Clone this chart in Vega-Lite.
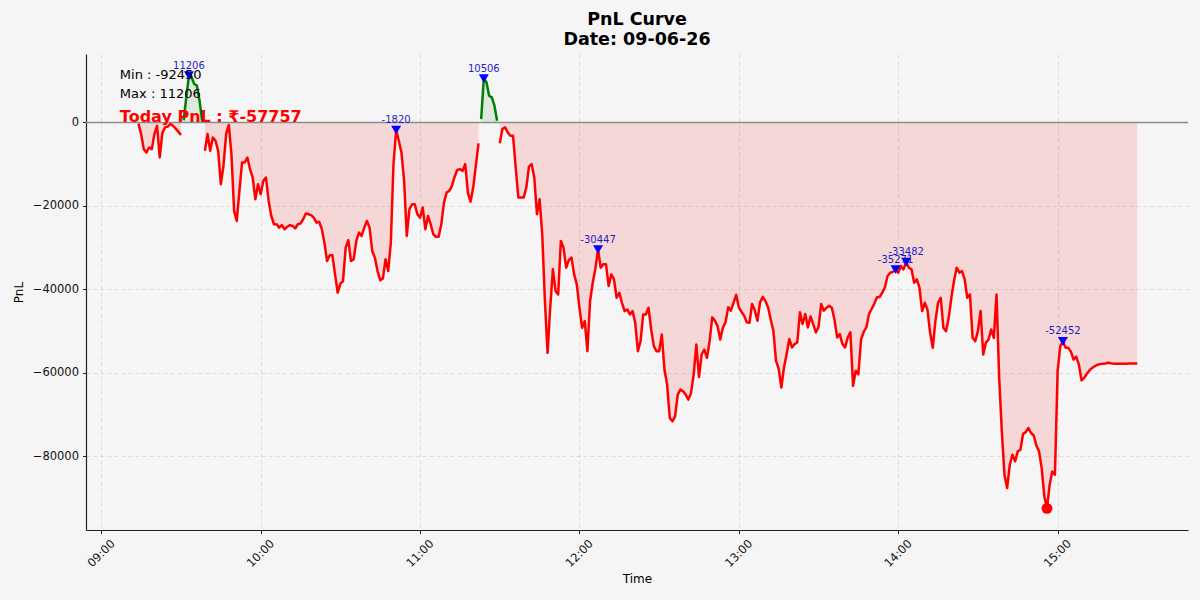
{
  "$schema": "https://vega.github.io/schema/vega-lite/v6.json",
  "width": 1102,
  "height": 476,
  "autosize": {"type": "none"},
  "padding": {"left": 86, "top": 54, "right": 12, "bottom": 70},
  "background": "#f5f5f5",
  "title": {"text": ["PnL Curve", "Date: 09-06-26"], "fontSize": 17.5, "fontWeight": "bold", "lineHeight": 20, "anchor": "middle", "offset": 6, "color": "#000000"},
  "config": {
    "view": {"stroke": null},
    "font": "DejaVu Sans",
    "axis": {
      "domainColor": "#222222", "domainWidth": 1.2, "tickColor": "#222222", "tickWidth": 1, "tickSize": 3.5,
      "labelColor": "#111111", "labelFontSize": 11.5,
      "titleColor": "#000000", "titleFontSize": 12, "titleFontWeight": "normal",
      "grid": true, "gridColor": "#b0b0b0", "gridOpacity": 0.45, "gridDash": [4, 3], "gridWidth": 0.8
    }
  },
  "data": {"values": [
      {"t":"2026-06-09T09:14","v":-300,"g":1,"s":"neg"},{"t":"2026-06-09T09:15","v":-2800,"g":1,"s":"neg"},{"t":"2026-06-09T09:16","v":-6400,"g":1,"s":"neg"},{"t":"2026-06-09T09:17","v":-7200,"g":1,"s":"neg"},{"t":"2026-06-09T09:18","v":-6000,"g":1,"s":"neg"},{"t":"2026-06-09T09:19","v":-6400,"g":1,"s":"neg"},{"t":"2026-06-09T09:20","v":-2800,"g":1,"s":"neg"},{"t":"2026-06-09T09:21","v":-800,"g":1,"s":"neg"},{"t":"2026-06-09T09:22","v":-8400,"g":1,"s":"neg"},{"t":"2026-06-09T09:23","v":-2500,"g":1,"s":"neg"},{"t":"2026-06-09T09:24","v":-1200,"g":1,"s":"neg"},{"t":"2026-06-09T09:25","v":-1000,"g":1,"s":"neg"},{"t":"2026-06-09T09:26","v":-400,"g":1,"s":"neg"},{"t":"2026-06-09T09:27","v":-800,"g":1,"s":"neg"},{"t":"2026-06-09T09:28","v":-1500,"g":1,"s":"neg"},{"t":"2026-06-09T09:29","v":-2200,"g":1,"s":"neg"},{"t":"2026-06-09T09:30","v":-3000,"g":1,"s":"neg"},
      {"t":"2026-06-09T09:31","v":500,"g":2,"s":"pos"},{"t":"2026-06-09T09:32","v":6000,"g":2,"s":"pos"},{"t":"2026-06-09T09:33","v":11206,"g":2,"s":"pos"},{"t":"2026-06-09T09:34","v":10800,"g":2,"s":"pos"},{"t":"2026-06-09T09:35","v":9200,"g":2,"s":"pos"},{"t":"2026-06-09T09:36","v":8800,"g":2,"s":"pos"},{"t":"2026-06-09T09:37","v":5200,"g":2,"s":"pos"},{"t":"2026-06-09T09:38","v":200,"g":2,"s":"pos"},
      {"t":"2026-06-09T09:39","v":-6800,"g":3,"s":"neg"},{"t":"2026-06-09T09:40","v":-2800,"g":3,"s":"neg"},{"t":"2026-06-09T09:41","v":-6800,"g":3,"s":"neg"},{"t":"2026-06-09T09:42","v":-3600,"g":3,"s":"neg"},{"t":"2026-06-09T09:43","v":-4400,"g":3,"s":"neg"},{"t":"2026-06-09T09:44","v":-6800,"g":3,"s":"neg"},{"t":"2026-06-09T09:45","v":-14800,"g":3,"s":"neg"},{"t":"2026-06-09T09:46","v":-10400,"g":3,"s":"neg"},{"t":"2026-06-09T09:47","v":-2800,"g":3,"s":"neg"},{"t":"2026-06-09T09:48","v":-600,"g":3,"s":"neg"},{"t":"2026-06-09T09:49","v":-7600,"g":3,"s":"neg"},{"t":"2026-06-09T09:50","v":-21200,"g":3,"s":"neg"},{"t":"2026-06-09T09:51","v":-23600,"g":3,"s":"neg"},{"t":"2026-06-09T09:52","v":-16400,"g":3,"s":"neg"},{"t":"2026-06-09T09:53","v":-9600,"g":3,"s":"neg"},{"t":"2026-06-09T09:54","v":-9600,"g":3,"s":"neg"},{"t":"2026-06-09T09:55","v":-8400,"g":3,"s":"neg"},{"t":"2026-06-09T09:56","v":-11200,"g":3,"s":"neg"},{"t":"2026-06-09T09:57","v":-13200,"g":3,"s":"neg"},{"t":"2026-06-09T09:58","v":-18400,"g":3,"s":"neg"},{"t":"2026-06-09T09:59","v":-14800,"g":3,"s":"neg"},
      {"t":"2026-06-09T10:00","v":-17200,"g":3,"s":"neg"},{"t":"2026-06-09T10:01","v":-14000,"g":3,"s":"neg"},{"t":"2026-06-09T10:02","v":-13200,"g":3,"s":"neg"},{"t":"2026-06-09T10:03","v":-18800,"g":3,"s":"neg"},{"t":"2026-06-09T10:04","v":-22400,"g":3,"s":"neg"},{"t":"2026-06-09T10:05","v":-24400,"g":3,"s":"neg"},{"t":"2026-06-09T10:06","v":-24400,"g":3,"s":"neg"},{"t":"2026-06-09T10:07","v":-25200,"g":3,"s":"neg"},{"t":"2026-06-09T10:08","v":-24600,"g":3,"s":"neg"},{"t":"2026-06-09T10:09","v":-25600,"g":3,"s":"neg"},{"t":"2026-06-09T10:10","v":-25000,"g":3,"s":"neg"},{"t":"2026-06-09T10:11","v":-24600,"g":3,"s":"neg"},{"t":"2026-06-09T10:12","v":-24800,"g":3,"s":"neg"},{"t":"2026-06-09T10:13","v":-25400,"g":3,"s":"neg"},{"t":"2026-06-09T10:14","v":-24400,"g":3,"s":"neg"},{"t":"2026-06-09T10:15","v":-24200,"g":3,"s":"neg"},{"t":"2026-06-09T10:16","v":-23200,"g":3,"s":"neg"},{"t":"2026-06-09T10:17","v":-21800,"g":3,"s":"neg"},{"t":"2026-06-09T10:18","v":-22000,"g":3,"s":"neg"},{"t":"2026-06-09T10:19","v":-22200,"g":3,"s":"neg"},{"t":"2026-06-09T10:20","v":-22800,"g":3,"s":"neg"},{"t":"2026-06-09T10:21","v":-24000,"g":3,"s":"neg"},{"t":"2026-06-09T10:22","v":-23800,"g":3,"s":"neg"},{"t":"2026-06-09T10:23","v":-25500,"g":3,"s":"neg"},{"t":"2026-06-09T10:24","v":-28800,"g":3,"s":"neg"},{"t":"2026-06-09T10:25","v":-33200,"g":3,"s":"neg"},{"t":"2026-06-09T10:26","v":-31800,"g":3,"s":"neg"},{"t":"2026-06-09T10:27","v":-31800,"g":3,"s":"neg"},{"t":"2026-06-09T10:28","v":-36400,"g":3,"s":"neg"},{"t":"2026-06-09T10:29","v":-40800,"g":3,"s":"neg"},{"t":"2026-06-09T10:30","v":-38600,"g":3,"s":"neg"},{"t":"2026-06-09T10:31","v":-38000,"g":3,"s":"neg"},{"t":"2026-06-09T10:32","v":-30000,"g":3,"s":"neg"},{"t":"2026-06-09T10:33","v":-28200,"g":3,"s":"neg"},{"t":"2026-06-09T10:34","v":-33200,"g":3,"s":"neg"},{"t":"2026-06-09T10:35","v":-32800,"g":3,"s":"neg"},{"t":"2026-06-09T10:36","v":-28400,"g":3,"s":"neg"},{"t":"2026-06-09T10:37","v":-26400,"g":3,"s":"neg"},{"t":"2026-06-09T10:38","v":-27200,"g":3,"s":"neg"},{"t":"2026-06-09T10:39","v":-25200,"g":3,"s":"neg"},{"t":"2026-06-09T10:40","v":-23600,"g":3,"s":"neg"},{"t":"2026-06-09T10:41","v":-25200,"g":3,"s":"neg"},{"t":"2026-06-09T10:42","v":-30800,"g":3,"s":"neg"},{"t":"2026-06-09T10:43","v":-32400,"g":3,"s":"neg"},{"t":"2026-06-09T10:44","v":-35600,"g":3,"s":"neg"},{"t":"2026-06-09T10:45","v":-37800,"g":3,"s":"neg"},{"t":"2026-06-09T10:46","v":-37400,"g":3,"s":"neg"},{"t":"2026-06-09T10:47","v":-32800,"g":3,"s":"neg"},{"t":"2026-06-09T10:48","v":-35600,"g":3,"s":"neg"},{"t":"2026-06-09T10:49","v":-28800,"g":3,"s":"neg"},{"t":"2026-06-09T10:50","v":-10000,"g":3,"s":"neg"},{"t":"2026-06-09T10:51","v":-1820,"g":3,"s":"neg"},{"t":"2026-06-09T10:52","v":-4400,"g":3,"s":"neg"},{"t":"2026-06-09T10:53","v":-7200,"g":3,"s":"neg"},{"t":"2026-06-09T10:54","v":-14000,"g":3,"s":"neg"},{"t":"2026-06-09T10:55","v":-27200,"g":3,"s":"neg"},{"t":"2026-06-09T10:56","v":-20800,"g":3,"s":"neg"},{"t":"2026-06-09T10:57","v":-19600,"g":3,"s":"neg"},{"t":"2026-06-09T10:58","v":-19600,"g":3,"s":"neg"},{"t":"2026-06-09T10:59","v":-22000,"g":3,"s":"neg"},
      {"t":"2026-06-09T11:00","v":-22800,"g":3,"s":"neg"},{"t":"2026-06-09T11:01","v":-20400,"g":3,"s":"neg"},{"t":"2026-06-09T11:02","v":-25600,"g":3,"s":"neg"},{"t":"2026-06-09T11:03","v":-22400,"g":3,"s":"neg"},{"t":"2026-06-09T11:04","v":-24400,"g":3,"s":"neg"},{"t":"2026-06-09T11:05","v":-26800,"g":3,"s":"neg"},{"t":"2026-06-09T11:06","v":-27400,"g":3,"s":"neg"},{"t":"2026-06-09T11:07","v":-27400,"g":3,"s":"neg"},{"t":"2026-06-09T11:08","v":-24400,"g":3,"s":"neg"},{"t":"2026-06-09T11:09","v":-19200,"g":3,"s":"neg"},{"t":"2026-06-09T11:10","v":-16800,"g":3,"s":"neg"},{"t":"2026-06-09T11:11","v":-16400,"g":3,"s":"neg"},{"t":"2026-06-09T11:12","v":-15200,"g":3,"s":"neg"},{"t":"2026-06-09T11:13","v":-13000,"g":3,"s":"neg"},{"t":"2026-06-09T11:14","v":-11400,"g":3,"s":"neg"},{"t":"2026-06-09T11:15","v":-11200,"g":3,"s":"neg"},{"t":"2026-06-09T11:16","v":-11600,"g":3,"s":"neg"},{"t":"2026-06-09T11:17","v":-10000,"g":3,"s":"neg"},{"t":"2026-06-09T11:18","v":-16800,"g":3,"s":"neg"},{"t":"2026-06-09T11:19","v":-19000,"g":3,"s":"neg"},{"t":"2026-06-09T11:20","v":-15600,"g":3,"s":"neg"},{"t":"2026-06-09T11:21","v":-10400,"g":3,"s":"neg"},{"t":"2026-06-09T11:22","v":-5000,"g":3,"s":"neg"},
      {"t":"2026-06-09T11:23","v":800,"g":4,"s":"pos"},{"t":"2026-06-09T11:24","v":10506,"g":4,"s":"pos"},{"t":"2026-06-09T11:25","v":9600,"g":4,"s":"pos"},{"t":"2026-06-09T11:26","v":6400,"g":4,"s":"pos"},{"t":"2026-06-09T11:27","v":6000,"g":4,"s":"pos"},{"t":"2026-06-09T11:28","v":4000,"g":4,"s":"pos"},{"t":"2026-06-09T11:29","v":400,"g":4,"s":"pos"},
      {"t":"2026-06-09T11:30","v":-5000,"g":5,"s":"neg"},{"t":"2026-06-09T11:31","v":-1600,"g":5,"s":"neg"},{"t":"2026-06-09T11:32","v":-1200,"g":5,"s":"neg"},{"t":"2026-06-09T11:33","v":-2400,"g":5,"s":"neg"},{"t":"2026-06-09T11:34","v":-3200,"g":5,"s":"neg"},{"t":"2026-06-09T11:35","v":-3200,"g":5,"s":"neg"},{"t":"2026-06-09T11:36","v":-10800,"g":5,"s":"neg"},{"t":"2026-06-09T11:37","v":-18000,"g":5,"s":"neg"},{"t":"2026-06-09T11:38","v":-18000,"g":5,"s":"neg"},{"t":"2026-06-09T11:39","v":-18000,"g":5,"s":"neg"},{"t":"2026-06-09T11:40","v":-15600,"g":5,"s":"neg"},{"t":"2026-06-09T11:41","v":-10600,"g":5,"s":"neg"},{"t":"2026-06-09T11:42","v":-10000,"g":5,"s":"neg"},{"t":"2026-06-09T11:43","v":-13200,"g":5,"s":"neg"},{"t":"2026-06-09T11:44","v":-22000,"g":5,"s":"neg"},{"t":"2026-06-09T11:45","v":-18400,"g":5,"s":"neg"},{"t":"2026-06-09T11:46","v":-26800,"g":5,"s":"neg"},{"t":"2026-06-09T11:47","v":-42800,"g":5,"s":"neg"},{"t":"2026-06-09T11:48","v":-55200,"g":5,"s":"neg"},{"t":"2026-06-09T11:49","v":-44400,"g":5,"s":"neg"},{"t":"2026-06-09T11:50","v":-35200,"g":5,"s":"neg"},{"t":"2026-06-09T11:51","v":-40400,"g":5,"s":"neg"},{"t":"2026-06-09T11:52","v":-41200,"g":5,"s":"neg"},{"t":"2026-06-09T11:53","v":-28400,"g":5,"s":"neg"},{"t":"2026-06-09T11:54","v":-30000,"g":5,"s":"neg"},{"t":"2026-06-09T11:55","v":-34800,"g":5,"s":"neg"},{"t":"2026-06-09T11:56","v":-33000,"g":5,"s":"neg"},{"t":"2026-06-09T11:57","v":-32400,"g":5,"s":"neg"},{"t":"2026-06-09T11:58","v":-36400,"g":5,"s":"neg"},{"t":"2026-06-09T11:59","v":-38800,"g":5,"s":"neg"},
      {"t":"2026-06-09T12:00","v":-44400,"g":5,"s":"neg"},{"t":"2026-06-09T12:01","v":-49200,"g":5,"s":"neg"},{"t":"2026-06-09T12:02","v":-47600,"g":5,"s":"neg"},{"t":"2026-06-09T12:03","v":-54800,"g":5,"s":"neg"},{"t":"2026-06-09T12:04","v":-42800,"g":5,"s":"neg"},{"t":"2026-06-09T12:05","v":-38400,"g":5,"s":"neg"},{"t":"2026-06-09T12:06","v":-35000,"g":5,"s":"neg"},{"t":"2026-06-09T12:07","v":-30447,"g":5,"s":"neg"},{"t":"2026-06-09T12:08","v":-34800,"g":5,"s":"neg"},{"t":"2026-06-09T12:09","v":-34000,"g":5,"s":"neg"},{"t":"2026-06-09T12:10","v":-34000,"g":5,"s":"neg"},{"t":"2026-06-09T12:11","v":-39200,"g":5,"s":"neg"},{"t":"2026-06-09T12:12","v":-36400,"g":5,"s":"neg"},{"t":"2026-06-09T12:13","v":-37600,"g":5,"s":"neg"},{"t":"2026-06-09T12:14","v":-42000,"g":5,"s":"neg"},{"t":"2026-06-09T12:15","v":-40800,"g":5,"s":"neg"},{"t":"2026-06-09T12:16","v":-43200,"g":5,"s":"neg"},{"t":"2026-06-09T12:17","v":-45200,"g":5,"s":"neg"},{"t":"2026-06-09T12:18","v":-44800,"g":5,"s":"neg"},{"t":"2026-06-09T12:19","v":-46000,"g":5,"s":"neg"},{"t":"2026-06-09T12:20","v":-45200,"g":5,"s":"neg"},{"t":"2026-06-09T12:21","v":-48000,"g":5,"s":"neg"},{"t":"2026-06-09T12:22","v":-54800,"g":5,"s":"neg"},{"t":"2026-06-09T12:23","v":-52400,"g":5,"s":"neg"},{"t":"2026-06-09T12:24","v":-46000,"g":5,"s":"neg"},{"t":"2026-06-09T12:25","v":-46000,"g":5,"s":"neg"},{"t":"2026-06-09T12:26","v":-44400,"g":5,"s":"neg"},{"t":"2026-06-09T12:27","v":-49600,"g":5,"s":"neg"},{"t":"2026-06-09T12:28","v":-53600,"g":5,"s":"neg"},{"t":"2026-06-09T12:29","v":-54800,"g":5,"s":"neg"},{"t":"2026-06-09T12:30","v":-54800,"g":5,"s":"neg"},{"t":"2026-06-09T12:31","v":-50800,"g":5,"s":"neg"},{"t":"2026-06-09T12:32","v":-59200,"g":5,"s":"neg"},{"t":"2026-06-09T12:33","v":-62800,"g":5,"s":"neg"},{"t":"2026-06-09T12:34","v":-70800,"g":5,"s":"neg"},{"t":"2026-06-09T12:35","v":-71600,"g":5,"s":"neg"},{"t":"2026-06-09T12:36","v":-70400,"g":5,"s":"neg"},{"t":"2026-06-09T12:37","v":-65200,"g":5,"s":"neg"},{"t":"2026-06-09T12:38","v":-64000,"g":5,"s":"neg"},{"t":"2026-06-09T12:39","v":-64400,"g":5,"s":"neg"},{"t":"2026-06-09T12:40","v":-65200,"g":5,"s":"neg"},{"t":"2026-06-09T12:41","v":-66400,"g":5,"s":"neg"},{"t":"2026-06-09T12:42","v":-64800,"g":5,"s":"neg"},{"t":"2026-06-09T12:43","v":-60400,"g":5,"s":"neg"},{"t":"2026-06-09T12:44","v":-53200,"g":5,"s":"neg"},{"t":"2026-06-09T12:45","v":-61000,"g":5,"s":"neg"},{"t":"2026-06-09T12:46","v":-55600,"g":5,"s":"neg"},{"t":"2026-06-09T12:47","v":-54400,"g":5,"s":"neg"},{"t":"2026-06-09T12:48","v":-56400,"g":5,"s":"neg"},{"t":"2026-06-09T12:49","v":-52400,"g":5,"s":"neg"},{"t":"2026-06-09T12:50","v":-46700,"g":5,"s":"neg"},{"t":"2026-06-09T12:51","v":-47500,"g":5,"s":"neg"},{"t":"2026-06-09T12:52","v":-48800,"g":5,"s":"neg"},{"t":"2026-06-09T12:53","v":-52000,"g":5,"s":"neg"},{"t":"2026-06-09T12:54","v":-49200,"g":5,"s":"neg"},{"t":"2026-06-09T12:55","v":-47800,"g":5,"s":"neg"},{"t":"2026-06-09T12:56","v":-44300,"g":5,"s":"neg"},{"t":"2026-06-09T12:57","v":-45100,"g":5,"s":"neg"},{"t":"2026-06-09T12:58","v":-43200,"g":5,"s":"neg"},{"t":"2026-06-09T12:59","v":-41300,"g":5,"s":"neg"},
      {"t":"2026-06-09T13:00","v":-44300,"g":5,"s":"neg"},{"t":"2026-06-09T13:01","v":-45400,"g":5,"s":"neg"},{"t":"2026-06-09T13:02","v":-46300,"g":5,"s":"neg"},{"t":"2026-06-09T13:03","v":-47900,"g":5,"s":"neg"},{"t":"2026-06-09T13:04","v":-48000,"g":5,"s":"neg"},{"t":"2026-06-09T13:05","v":-43500,"g":5,"s":"neg"},{"t":"2026-06-09T13:06","v":-45000,"g":5,"s":"neg"},{"t":"2026-06-09T13:07","v":-47500,"g":5,"s":"neg"},{"t":"2026-06-09T13:08","v":-43100,"g":5,"s":"neg"},{"t":"2026-06-09T13:09","v":-41800,"g":5,"s":"neg"},{"t":"2026-06-09T13:10","v":-42800,"g":5,"s":"neg"},{"t":"2026-06-09T13:11","v":-44300,"g":5,"s":"neg"},{"t":"2026-06-09T13:12","v":-47200,"g":5,"s":"neg"},{"t":"2026-06-09T13:13","v":-49900,"g":5,"s":"neg"},{"t":"2026-06-09T13:14","v":-57100,"g":5,"s":"neg"},{"t":"2026-06-09T13:15","v":-59000,"g":5,"s":"neg"},{"t":"2026-06-09T13:16","v":-63500,"g":5,"s":"neg"},{"t":"2026-06-09T13:17","v":-58700,"g":5,"s":"neg"},{"t":"2026-06-09T13:18","v":-55500,"g":5,"s":"neg"},{"t":"2026-06-09T13:19","v":-51900,"g":5,"s":"neg"},{"t":"2026-06-09T13:20","v":-53900,"g":5,"s":"neg"},{"t":"2026-06-09T13:21","v":-53100,"g":5,"s":"neg"},{"t":"2026-06-09T13:22","v":-52700,"g":5,"s":"neg"},{"t":"2026-06-09T13:23","v":-45500,"g":5,"s":"neg"},{"t":"2026-06-09T13:24","v":-48300,"g":5,"s":"neg"},{"t":"2026-06-09T13:25","v":-45900,"g":5,"s":"neg"},{"t":"2026-06-09T13:26","v":-49100,"g":5,"s":"neg"},{"t":"2026-06-09T13:27","v":-46500,"g":5,"s":"neg"},{"t":"2026-06-09T13:28","v":-48300,"g":5,"s":"neg"},{"t":"2026-06-09T13:29","v":-50300,"g":5,"s":"neg"},{"t":"2026-06-09T13:30","v":-49000,"g":5,"s":"neg"},{"t":"2026-06-09T13:31","v":-43500,"g":5,"s":"neg"},{"t":"2026-06-09T13:32","v":-45100,"g":5,"s":"neg"},{"t":"2026-06-09T13:33","v":-44400,"g":5,"s":"neg"},{"t":"2026-06-09T13:34","v":-43900,"g":5,"s":"neg"},{"t":"2026-06-09T13:35","v":-44400,"g":5,"s":"neg"},{"t":"2026-06-09T13:36","v":-47200,"g":5,"s":"neg"},{"t":"2026-06-09T13:37","v":-51500,"g":5,"s":"neg"},{"t":"2026-06-09T13:38","v":-50700,"g":5,"s":"neg"},{"t":"2026-06-09T13:39","v":-53100,"g":5,"s":"neg"},{"t":"2026-06-09T13:40","v":-53900,"g":5,"s":"neg"},{"t":"2026-06-09T13:41","v":-51500,"g":5,"s":"neg"},{"t":"2026-06-09T13:42","v":-50300,"g":5,"s":"neg"},{"t":"2026-06-09T13:43","v":-63100,"g":5,"s":"neg"},{"t":"2026-06-09T13:44","v":-59500,"g":5,"s":"neg"},{"t":"2026-06-09T13:45","v":-60300,"g":5,"s":"neg"},{"t":"2026-06-09T13:46","v":-52000,"g":5,"s":"neg"},{"t":"2026-06-09T13:47","v":-50200,"g":5,"s":"neg"},{"t":"2026-06-09T13:48","v":-49100,"g":5,"s":"neg"},{"t":"2026-06-09T13:49","v":-45900,"g":5,"s":"neg"},{"t":"2026-06-09T13:50","v":-44700,"g":5,"s":"neg"},{"t":"2026-06-09T13:51","v":-43400,"g":5,"s":"neg"},{"t":"2026-06-09T13:52","v":-41900,"g":5,"s":"neg"},{"t":"2026-06-09T13:53","v":-41800,"g":5,"s":"neg"},{"t":"2026-06-09T13:54","v":-40800,"g":5,"s":"neg"},{"t":"2026-06-09T13:55","v":-39500,"g":5,"s":"neg"},{"t":"2026-06-09T13:56","v":-36800,"g":5,"s":"neg"},{"t":"2026-06-09T13:57","v":-36000,"g":5,"s":"neg"},{"t":"2026-06-09T13:58","v":-35800,"g":5,"s":"neg"},{"t":"2026-06-09T13:59","v":-35271,"g":5,"s":"neg"},
      {"t":"2026-06-09T14:00","v":-36000,"g":5,"s":"neg"},{"t":"2026-06-09T14:01","v":-34400,"g":5,"s":"neg"},{"t":"2026-06-09T14:02","v":-35200,"g":5,"s":"neg"},{"t":"2026-06-09T14:03","v":-33482,"g":5,"s":"neg"},{"t":"2026-06-09T14:04","v":-34800,"g":5,"s":"neg"},{"t":"2026-06-09T14:05","v":-35200,"g":5,"s":"neg"},{"t":"2026-06-09T14:06","v":-38400,"g":5,"s":"neg"},{"t":"2026-06-09T14:07","v":-37600,"g":5,"s":"neg"},{"t":"2026-06-09T14:08","v":-39600,"g":5,"s":"neg"},{"t":"2026-06-09T14:09","v":-45200,"g":5,"s":"neg"},{"t":"2026-06-09T14:10","v":-43200,"g":5,"s":"neg"},{"t":"2026-06-09T14:11","v":-44800,"g":5,"s":"neg"},{"t":"2026-06-09T14:12","v":-50400,"g":5,"s":"neg"},{"t":"2026-06-09T14:13","v":-54000,"g":5,"s":"neg"},{"t":"2026-06-09T14:14","v":-47600,"g":5,"s":"neg"},{"t":"2026-06-09T14:15","v":-43200,"g":5,"s":"neg"},{"t":"2026-06-09T14:16","v":-42000,"g":5,"s":"neg"},{"t":"2026-06-09T14:17","v":-49200,"g":5,"s":"neg"},{"t":"2026-06-09T14:18","v":-50000,"g":5,"s":"neg"},{"t":"2026-06-09T14:19","v":-46800,"g":5,"s":"neg"},{"t":"2026-06-09T14:20","v":-42000,"g":5,"s":"neg"},{"t":"2026-06-09T14:21","v":-38000,"g":5,"s":"neg"},{"t":"2026-06-09T14:22","v":-34800,"g":5,"s":"neg"},{"t":"2026-06-09T14:23","v":-36000,"g":5,"s":"neg"},{"t":"2026-06-09T14:24","v":-35600,"g":5,"s":"neg"},{"t":"2026-06-09T14:25","v":-37600,"g":5,"s":"neg"},{"t":"2026-06-09T14:26","v":-42000,"g":5,"s":"neg"},{"t":"2026-06-09T14:27","v":-41200,"g":5,"s":"neg"},{"t":"2026-06-09T14:28","v":-51600,"g":5,"s":"neg"},{"t":"2026-06-09T14:29","v":-52400,"g":5,"s":"neg"},{"t":"2026-06-09T14:30","v":-50000,"g":5,"s":"neg"},{"t":"2026-06-09T14:31","v":-45200,"g":5,"s":"neg"},{"t":"2026-06-09T14:32","v":-55600,"g":5,"s":"neg"},{"t":"2026-06-09T14:33","v":-52800,"g":5,"s":"neg"},{"t":"2026-06-09T14:34","v":-52000,"g":5,"s":"neg"},{"t":"2026-06-09T14:35","v":-49600,"g":5,"s":"neg"},{"t":"2026-06-09T14:36","v":-51600,"g":5,"s":"neg"},{"t":"2026-06-09T14:37","v":-41200,"g":5,"s":"neg"},{"t":"2026-06-09T14:38","v":-61200,"g":5,"s":"neg"},{"t":"2026-06-09T14:39","v":-74000,"g":5,"s":"neg"},{"t":"2026-06-09T14:40","v":-84400,"g":5,"s":"neg"},{"t":"2026-06-09T14:41","v":-87600,"g":5,"s":"neg"},{"t":"2026-06-09T14:42","v":-82000,"g":5,"s":"neg"},{"t":"2026-06-09T14:43","v":-79600,"g":5,"s":"neg"},{"t":"2026-06-09T14:44","v":-81200,"g":5,"s":"neg"},{"t":"2026-06-09T14:45","v":-78800,"g":5,"s":"neg"},{"t":"2026-06-09T14:46","v":-78400,"g":5,"s":"neg"},{"t":"2026-06-09T14:47","v":-74600,"g":5,"s":"neg"},{"t":"2026-06-09T14:48","v":-74200,"g":5,"s":"neg"},{"t":"2026-06-09T14:49","v":-73200,"g":5,"s":"neg"},{"t":"2026-06-09T14:50","v":-74400,"g":5,"s":"neg"},{"t":"2026-06-09T14:51","v":-75000,"g":5,"s":"neg"},{"t":"2026-06-09T14:52","v":-77400,"g":5,"s":"neg"},{"t":"2026-06-09T14:53","v":-78800,"g":5,"s":"neg"},{"t":"2026-06-09T14:54","v":-82800,"g":5,"s":"neg"},{"t":"2026-06-09T14:55","v":-89600,"g":5,"s":"neg"},{"t":"2026-06-09T14:56","v":-92450,"g":5,"s":"neg"},{"t":"2026-06-09T14:57","v":-86800,"g":5,"s":"neg"},{"t":"2026-06-09T14:58","v":-83600,"g":5,"s":"neg"},{"t":"2026-06-09T14:59","v":-84400,"g":5,"s":"neg"},
      {"t":"2026-06-09T15:00","v":-59600,"g":5,"s":"neg"},{"t":"2026-06-09T15:01","v":-53600,"g":5,"s":"neg"},{"t":"2026-06-09T15:02","v":-52452,"g":5,"s":"neg"},{"t":"2026-06-09T15:03","v":-54000,"g":5,"s":"neg"},{"t":"2026-06-09T15:04","v":-54000,"g":5,"s":"neg"},{"t":"2026-06-09T15:05","v":-54900,"g":5,"s":"neg"},{"t":"2026-06-09T15:06","v":-56800,"g":5,"s":"neg"},{"t":"2026-06-09T15:07","v":-56100,"g":5,"s":"neg"},{"t":"2026-06-09T15:08","v":-58000,"g":5,"s":"neg"},{"t":"2026-06-09T15:09","v":-61800,"g":5,"s":"neg"},{"t":"2026-06-09T15:10","v":-61200,"g":5,"s":"neg"},{"t":"2026-06-09T15:11","v":-60200,"g":5,"s":"neg"},{"t":"2026-06-09T15:12","v":-59400,"g":5,"s":"neg"},{"t":"2026-06-09T15:13","v":-58800,"g":5,"s":"neg"},{"t":"2026-06-09T15:14","v":-58400,"g":5,"s":"neg"},{"t":"2026-06-09T15:15","v":-58050,"g":5,"s":"neg"},{"t":"2026-06-09T15:16","v":-57900,"g":5,"s":"neg"},{"t":"2026-06-09T15:17","v":-57800,"g":5,"s":"neg"},{"t":"2026-06-09T15:18","v":-57730,"g":5,"s":"neg"},{"t":"2026-06-09T15:19","v":-57570,"g":5,"s":"neg"},{"t":"2026-06-09T15:20","v":-57700,"g":5,"s":"neg"},{"t":"2026-06-09T15:21","v":-57780,"g":5,"s":"neg"},{"t":"2026-06-09T15:22","v":-57800,"g":5,"s":"neg"},{"t":"2026-06-09T15:23","v":-57820,"g":5,"s":"neg"},{"t":"2026-06-09T15:24","v":-57800,"g":5,"s":"neg"},{"t":"2026-06-09T15:25","v":-57790,"g":5,"s":"neg"},{"t":"2026-06-09T15:26","v":-57780,"g":5,"s":"neg"},{"t":"2026-06-09T15:27","v":-57770,"g":5,"s":"neg"},{"t":"2026-06-09T15:28","v":-57760,"g":5,"s":"neg"},{"t":"2026-06-09T15:29","v":-57757,"g":5,"s":"neg"},{"t":"2026-06-09T15:30","v":-57757,"g":5,"s":"neg"}
  ]},
  "layer": [
    {
      "transform": [{"filter": {"field": "s", "equal": "neg"}}],
      "mark": {"type": "area", "color": "#ff0000", "opacity": 0.12},
      "encoding": {
        "x": {
          "field": "t", "type": "temporal", "title": "Time",
          "scale": {"domain": [
            {"year": 2026, "month": 6, "date": 9, "hours": 8, "minutes": 54, "seconds": 15},
            {"year": 2026, "month": 6, "date": 9, "hours": 15, "minutes": 49, "seconds": 5}
          ]},
          "axis": {
            "format": "%H:%M",
            "values": [
              {"year": 2026, "month": 6, "date": 9, "hours": 9},
              {"year": 2026, "month": 6, "date": 9, "hours": 10},
              {"year": 2026, "month": 6, "date": 9, "hours": 11},
              {"year": 2026, "month": 6, "date": 9, "hours": 12},
              {"year": 2026, "month": 6, "date": 9, "hours": 13},
              {"year": 2026, "month": 6, "date": 9, "hours": 14},
              {"year": 2026, "month": 6, "date": 9, "hours": 15}
            ],
            "labelAngle": -45, "labelAlign": "center", "labelBaseline": "middle", "labelPadding": 20, "titlePadding": 4, "labelOverlap": false
          }
        },
        "y": {
          "field": "v", "type": "quantitative", "title": "PnL", "stack": null,
          "scale": {"domain": [-97633, 16389], "nice": false, "zero": false},
          "axis": {"values": [-80000, -60000, -40000, -20000, 0], "format": "d", "labelExpr": "replace(datum.label, '-', '−')", "labelPadding": 4, "titlePadding": 7}
        },
        "y2": {"datum": 0},
        "detail": {"field": "g", "type": "nominal"}
      }
    },
    {
      "transform": [{"filter": {"field": "s", "equal": "pos"}}],
      "mark": {"type": "area", "color": "#008000", "opacity": 0.1},
      "encoding": {
        "x": {"field": "t", "type": "temporal"},
        "y": {"field": "v", "type": "quantitative", "stack": null},
        "y2": {"datum": 0},
        "detail": {"field": "g", "type": "nominal"}
      }
    },
    {
      "data": {"values": [{"z": 0}]},
      "mark": {"type": "rule", "color": "#8c8c8c", "strokeWidth": 1.5},
      "encoding": {"y": {"field": "z", "type": "quantitative"}}
    },
    {
      "transform": [{"filter": {"field": "s", "equal": "neg"}}],
      "mark": {"type": "line", "color": "#ff0000", "strokeWidth": 2.5, "strokeJoin": "round"},
      "encoding": {
        "x": {"field": "t", "type": "temporal"},
        "y": {"field": "v", "type": "quantitative"},
        "detail": {"field": "g", "type": "nominal"}
      }
    },
    {
      "transform": [{"filter": {"field": "s", "equal": "pos"}}],
      "mark": {"type": "line", "color": "#008000", "strokeWidth": 2.5, "strokeJoin": "round"},
      "encoding": {
        "x": {"field": "t", "type": "temporal"},
        "y": {"field": "v", "type": "quantitative"},
        "detail": {"field": "g", "type": "nominal"}
      }
    },
    {
      "data": {
        "values": [
          {"t":"2026-06-09T09:33","v":11206,"label":"11206"},
          {"t":"2026-06-09T10:51","v":-1820,"label":"-1820"},
          {"t":"2026-06-09T11:24","v":10506,"label":"10506"},
          {"t":"2026-06-09T12:07","v":-30447,"label":"-30447"},
          {"t":"2026-06-09T13:59","v":-35271,"label":"-35271"},
          {"t":"2026-06-09T14:03","v":-33482,"label":"-33482"},
          {"t":"2026-06-09T15:02","v":-52452,"label":"-52452"}
        ]
      },
      "layer": [
        {
          "mark": {"type": "point", "shape": "triangle-down", "filled": true, "size": 100, "color": "#0000ff", "opacity": 1},
          "encoding": {
            "x": {"field": "t", "type": "temporal"},
            "y": {"field": "v", "type": "quantitative"}
          }
        },
        {
          "mark": {"type": "text", "fontSize": 10, "color": "#1f1fbf", "align": "center", "baseline": "bottom", "dy": -5},
          "encoding": {
            "x": {"field": "t", "type": "temporal"},
            "y": {"field": "v", "type": "quantitative"},
            "text": {"field": "label", "type": "nominal"}
          }
        }
      ]
    },
    {
      "data": {"values": [{"t":"2026-06-09T14:56","v":-92450}]},
      "mark": {"type": "point", "shape": "circle", "filled": true, "size": 120, "color": "#ff0000", "opacity": 1},
      "encoding": {
        "x": {"field": "t", "type": "temporal"},
        "y": {"field": "v", "type": "quantitative"}
      }
    },
    {
      "data": {"values": [{"t":"2026-06-09T09:07","v":10500,"label":"Min : -92450"},{"t":"2026-06-09T09:07","v":5900,"label":"Max : 11206"}]},
      "mark": {"type": "text", "fontSize": 13, "color": "#000000", "align": "left", "baseline": "alphabetic"},
      "encoding": {
        "x": {"field": "t", "type": "temporal"},
        "y": {"field": "v", "type": "quantitative"},
        "text": {"field": "label", "type": "nominal"}
      }
    },
    {
      "data": {"values": [{"t":"2026-06-09T09:07","v":100,"label":"Today PnL : ₹-57757"}]},
      "mark": {"type": "text", "fontSize": 16, "fontWeight": "bold", "color": "#ff0000", "align": "left", "baseline": "alphabetic"},
      "encoding": {
        "x": {"field": "t", "type": "temporal"},
        "y": {"field": "v", "type": "quantitative"},
        "text": {"field": "label", "type": "nominal"}
      }
    }
  ]
}
